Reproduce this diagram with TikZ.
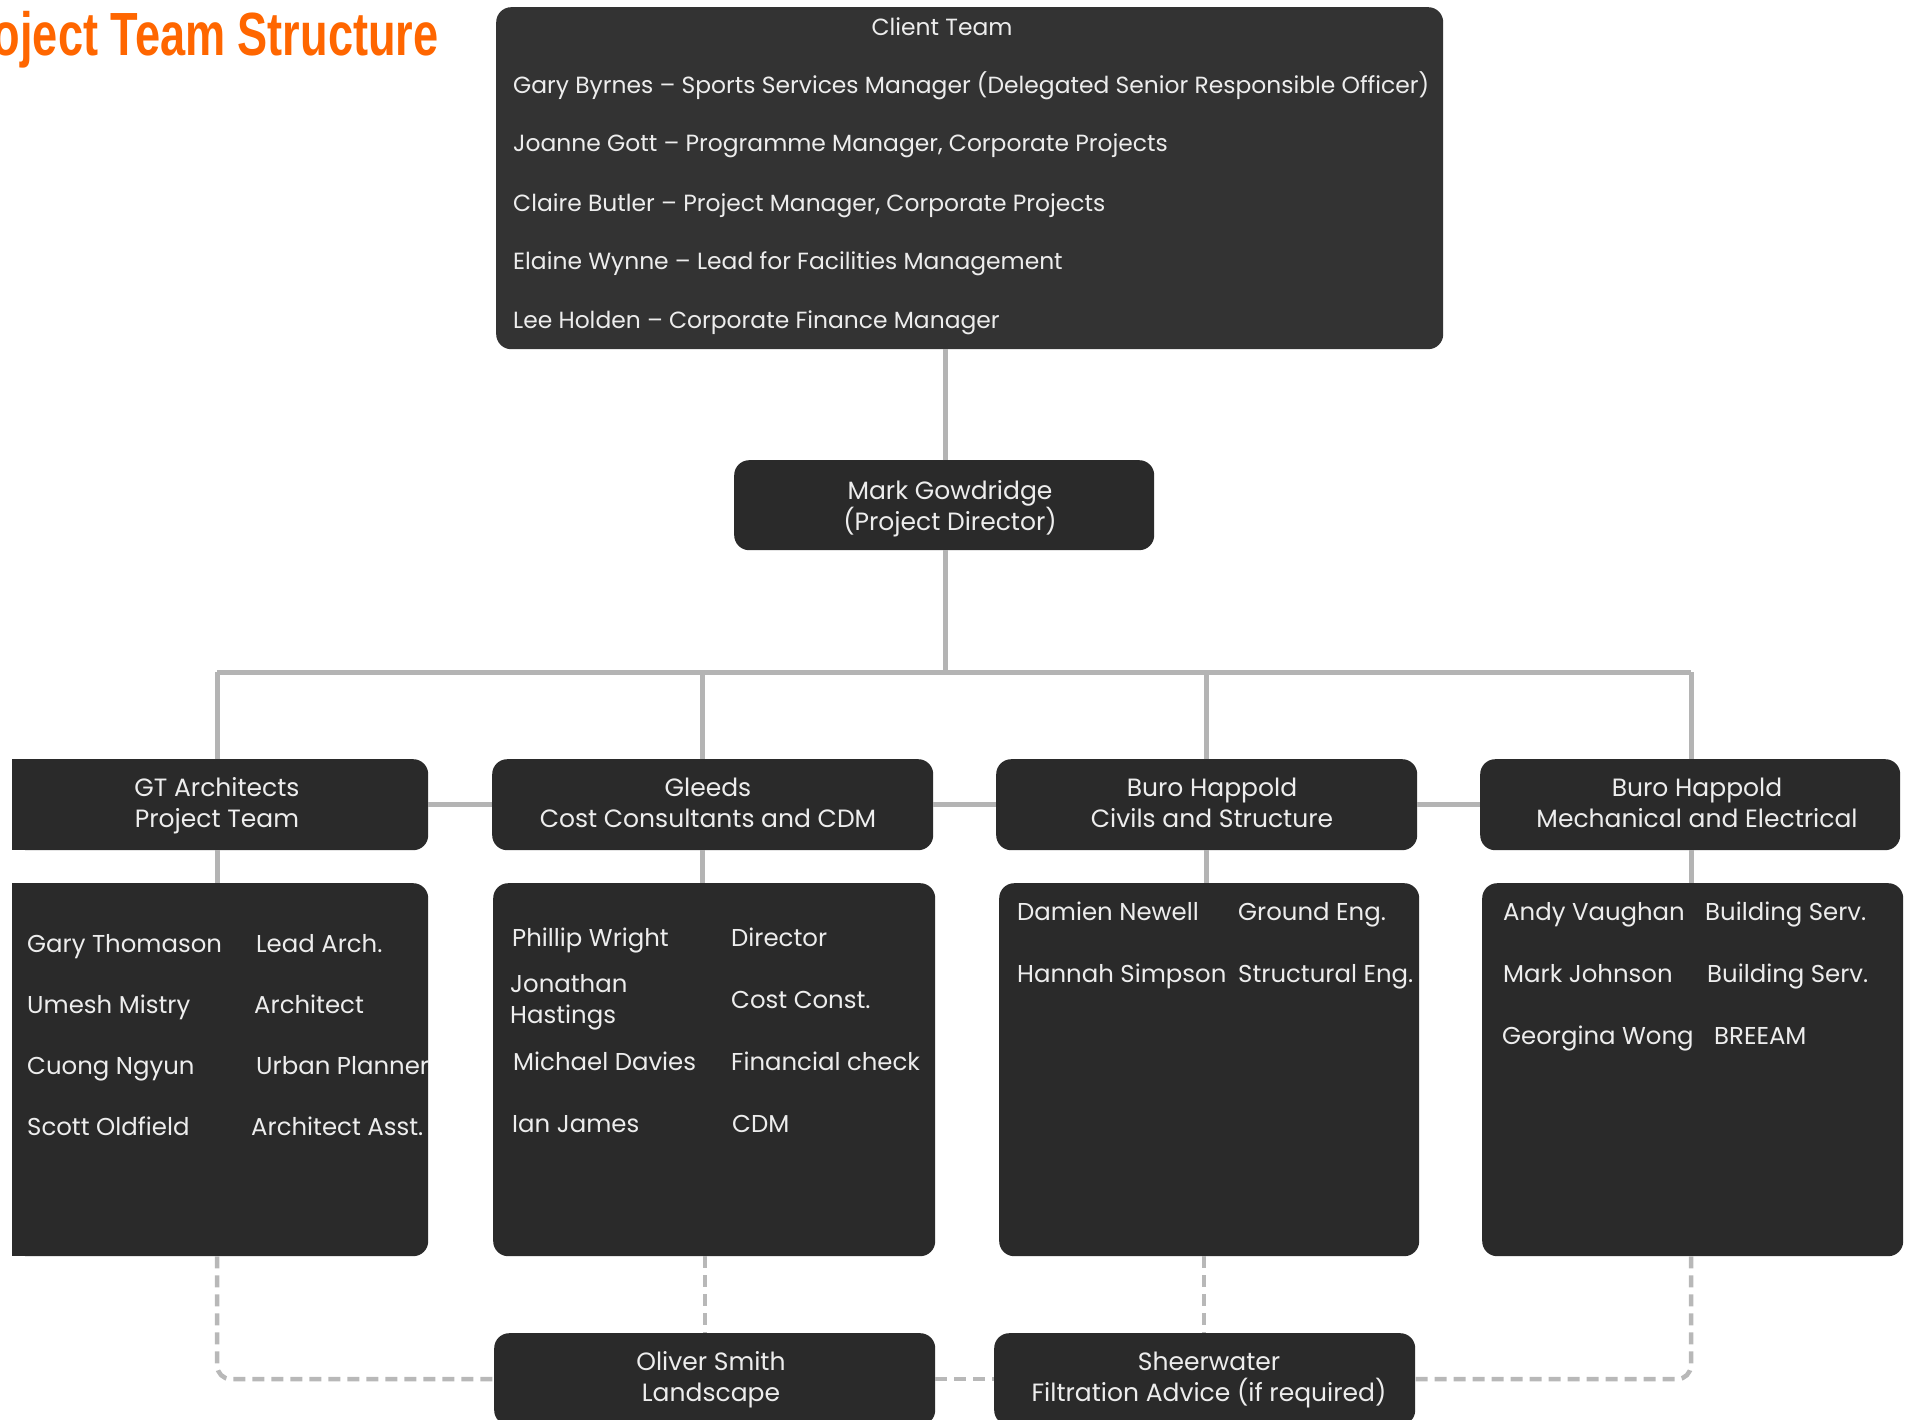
\documentclass[tikz,border=0pt]{standalone}
\usepackage{fontspec}
\usepackage{graphicx}
\setmainfont{Poppins}
\newfontfamily\titlefont{Liberation Sans}
\definecolor{boxfill}{HTML}{2A2A2A}
\definecolor{clientfill}{HTML}{333333}
\definecolor{linegrey}{HTML}{B4B4B4}
\definecolor{dashgrey}{HTML}{B8B8B8}
\definecolor{txtcol}{HTML}{EDEDED}
\definecolor{titleorange}{HTML}{FF6600}
\newcommand\hdrfont{\fontsize{25}{31}\selectfont\setlength{\lineskiplimit}{-100pt}}
\begin{document}
\begin{tikzpicture}[x=1pt,y=-1pt,
  box/.style={fill=boxfill, draw=none, rounded corners=15pt, inner sep=0pt},
  txt/.style={text=txtcol, inner sep=0pt, font=\fontsize{24.4}{31}\selectfont},
  hdr/.style={text=txtcol, inner sep=0pt, align=center, font=\hdrfont},
  ctxt/.style={text=txtcol, inner sep=0pt, font=\fontsize{23.4}{28}\selectfont},
  conn/.style={draw=linegrey, line width=5pt},
  dashconn/.style={draw=dashgrey, line width=4.5pt, dash pattern=on 12pt off 7pt, rounded corners=14pt},
]
\useasboundingbox (0,0) rectangle (1905,1420);
% title
\node[anchor=base west, inner sep=0pt, text=titleorange, font=\titlefont\bfseries\fontsize{61}{61}\selectfont] (title) at (-55,56) {\scalebox{0.74}[1]{Project Team Structure}};

% client team
\node[box, fill=clientfill, anchor=north west, minimum width=947pt, minimum height=342pt] (client) at (496,7) {};
\node[ctxt, anchor=base] (clienthead) at (942,36) {Client Team};
\node[ctxt, anchor=base west] (c1) at (513,94) {Gary Byrnes – Sports Services Manager (Delegated Senior Responsible Officer)};
\node[ctxt, anchor=base west] (c2) at (513,152) {Joanne Gott – Programme Manager, Corporate Projects};
\node[ctxt, anchor=base west] (c3) at (513,212) {Claire Butler – Project Manager, Corporate Projects};
\node[ctxt, anchor=base west] (c4) at (513,270) {Elaine Wynne – Lead for Facilities Management};
\node[ctxt, anchor=base west] (c5) at (513,329) {Lee Holden – Corporate Finance Manager};

% project director
\node[box, anchor=north west, minimum width=420pt, minimum height=90pt] (mark) at (734,460) {};
\node[hdr] (marktxt) at (950,509) {\strut Mark Gowdridge\\(Project Director)\strut};

% header boxes
\node[box, anchor=north west, minimum width=416pt, minimum height=91pt] (gth) at (12,759) {};
\fill[boxfill] (gth.north west) rectangle ([xshift=20pt]gth.south west);
\node[box, anchor=north west, minimum width=441pt, minimum height=91pt] (glh) at (492,759) {};
\node[box, anchor=north west, minimum width=421pt, minimum height=91pt] (cvh) at (996,759) {};
\node[box, anchor=north west, minimum width=420pt, minimum height=91pt] (meh) at (1480,759) {};
\node[hdr] (gthtxt) at (217,806) {\strut GT Architects\\Project Team\strut};
\node[hdr] (glhtxt) at (708,806) {\strut Gleeds\\Cost Consultants and CDM\strut};
\node[hdr] (cvhtxt) at (1212,806) {\strut Buro Happold\\Civils and Structure\strut};
\node[hdr] (mehtxt) at (1697,806) {\strut Buro Happold\\Mechanical and Electrical\strut};

% detail boxes
\node[box, anchor=north west, minimum width=416pt, minimum height=373pt] (gtd) at (12,883) {};
\fill[boxfill] (gtd.north west) rectangle ([xshift=20pt]gtd.south west);
\node[box, anchor=north west, minimum width=442pt, minimum height=373pt] (gld) at (493,883) {};
\node[box, anchor=north west, minimum width=420pt, minimum height=373pt] (cvd) at (999,883) {};
\node[box, anchor=north west, minimum width=421pt, minimum height=373pt] (med) at (1482,883) {};

% GT detail
\node[txt, anchor=base west] (gt1n) at (27,952) {Gary Thomason};
\node[txt, anchor=base west] (gt1r) at (256,952) {Lead Arch.};
\node[txt, anchor=base west] (gt2n) at (27,1013) {Umesh Mistry};
\node[txt, anchor=base west] (gt2r) at (254,1013) {Architect};
\node[txt, anchor=base west] (gt3n) at (27,1074) {Cuong Ngyun};
\node[txt, anchor=base west] (gt3r) at (256,1074) {Urban Planner};
\node[txt, anchor=base west] (gt4n) at (27,1135) {Scott Oldfield};
\node[txt, anchor=base west] (gt4r) at (251,1135) {Architect Asst.};

% Gleeds detail
\node[txt, anchor=base west] (gl1n) at (512,946) {Phillip Wright};
\node[txt, anchor=base west] (gl1r) at (731,946) {Director};
\node[txt, anchor=base west] (gl2n) at (510,992) {Jonathan};
\node[txt, anchor=base west] (gl2m) at (510,1023) {Hastings};
\node[txt, anchor=base west] (gl2r) at (731,1008) {Cost Const.};
\node[txt, anchor=base west] (gl3n) at (513,1070) {Michael Davies};
\node[txt, anchor=base west] (gl3r) at (731,1070) {Financial check};
\node[txt, anchor=base west] (gl4n) at (512,1132) {Ian James};
\node[txt, anchor=base west] (gl4r) at (732,1132) {CDM};

% Civils detail
\node[txt, anchor=base west] (cv1n) at (1017,920) {Damien Newell};
\node[txt, anchor=base west] (cv1r) at (1238,920) {Ground Eng.};
\node[txt, anchor=base west] (cv2n) at (1017,982) {Hannah Simpson};
\node[txt, anchor=base west] (cv2r) at (1238,982) {Structural Eng.};

% M&E detail
\node[txt, anchor=base west] (me1n) at (1503,920) {Andy Vaughan};
\node[txt, anchor=base west] (me1r) at (1705,920) {Building Serv.};
\node[txt, anchor=base west] (me2n) at (1503,982) {Mark Johnson};
\node[txt, anchor=base west] (me2r) at (1707,982) {Building Serv.};
\node[txt, anchor=base west] (me3n) at (1502,1044) {Georgina Wong};
\node[txt, anchor=base west] (me3r) at (1714,1044) {BREEAM};

% bottom boxes
\node[box, anchor=north west, minimum width=441pt, minimum height=92pt] (olb) at (494,1333) {};
\node[box, anchor=north west, minimum width=421pt, minimum height=92pt] (shb) at (994,1333) {};
\node[hdr] (olbtxt) at (711,1380) {\strut Oliver Smith\\Landscape\strut};
\node[hdr] (shbtxt) at (1209,1380) {\strut Sheerwater\\Filtration Advice (if required)\strut};

% connector columns
\coordinate (bus) at (945,672);
\coordinate (xgt) at (217,0);
\coordinate (xgl) at (702,0);
\coordinate (xcv) at (1206,0);
\coordinate (xme) at (1691,0);
\coordinate (dgl) at (705,0);
\coordinate (dcv) at (1204,0);

% connectors
\draw[conn] (mark.north -| bus) -- (client.south -| bus);
\draw[conn] (mark.south -| bus) -- (bus);
\draw[conn] (bus -| xgt) -- (bus -| xme);
\draw[conn] (gth.north -| xgt) -- (bus -| xgt);
\draw[conn] (glh.north -| xgl) -- (bus -| xgl);
\draw[conn] (cvh.north -| xcv) -- (bus -| xcv);
\draw[conn] (meh.north -| xme) -- (bus -| xme);
\draw[conn] (gth.east) -- (glh.west);
\draw[conn] (glh.east) -- (cvh.west);
\draw[conn] (cvh.east) -- (meh.west);
\draw[conn] (gth.south -| xgt) -- (gtd.north -| xgt);
\draw[conn] (glh.south -| xgl) -- (gld.north -| xgl);
\draw[conn] (cvh.south -| xcv) -- (cvd.north -| xcv);
\draw[conn] (meh.south -| xme) -- (med.north -| xme);

% dashed connectors
\draw[dashconn] (gtd.south -| xgt) |- (olb.west);
\draw[dashconn] (gld.south -| dgl) -- (olb.north -| dgl);
\draw[dashconn] (olb.east) -- (shb.west);
\draw[dashconn] (cvd.south -| dcv) -- (shb.north -| dcv);
\draw[dashconn] (med.south -| xme) |- (shb.east);
\end{tikzpicture}
\end{document}
